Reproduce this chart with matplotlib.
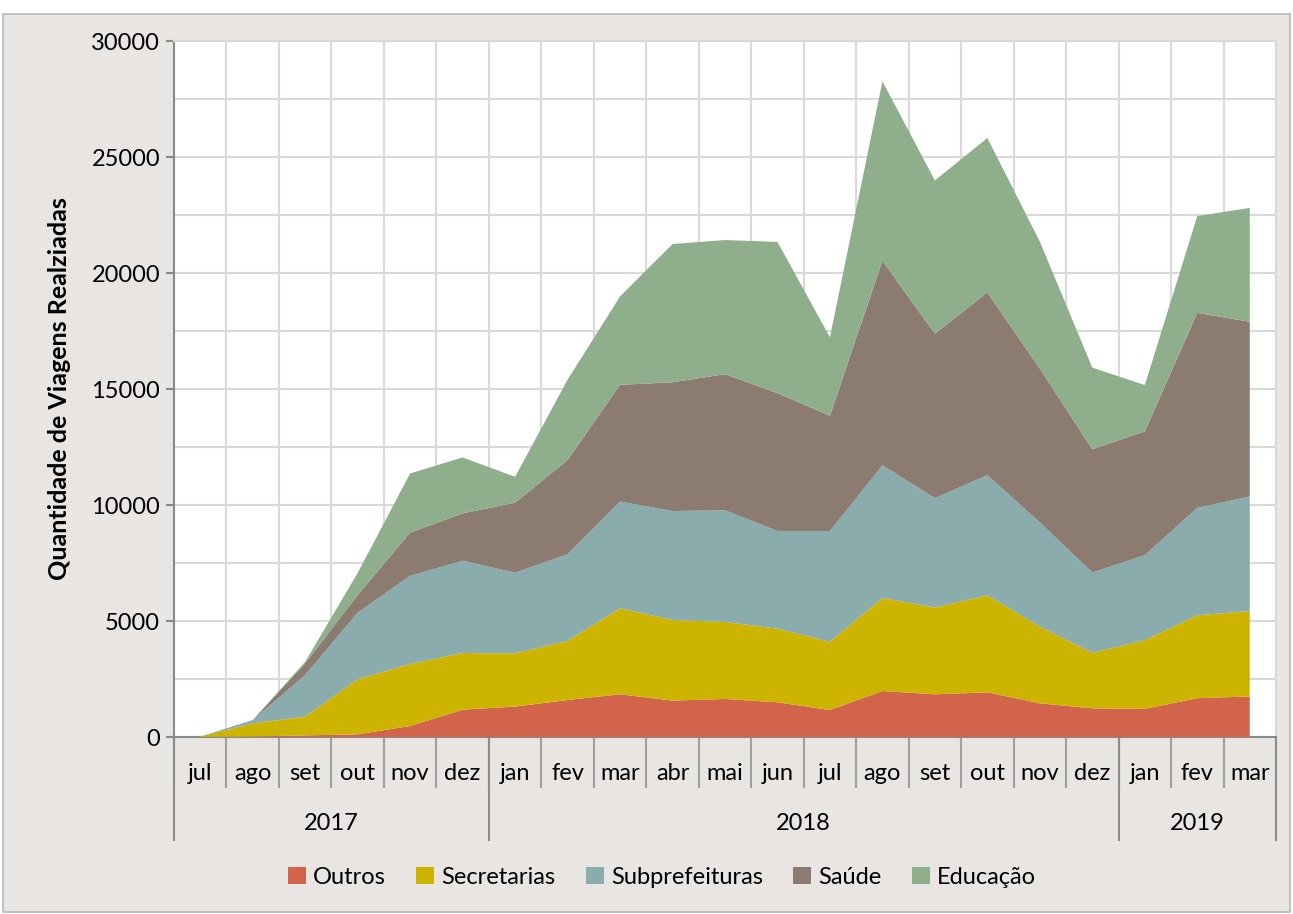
import matplotlib
matplotlib.use("Agg")
import matplotlib.pyplot as plt
import matplotlib.transforms as mtransforms
from matplotlib.patches import Rectangle
import numpy as np

plt.rcParams['font.family'] = ['Lato', 'DejaVu Sans']

months = ['jul', 'ago', 'set', 'out', 'nov', 'dez',
          'jan', 'fev', 'mar', 'abr', 'mai', 'jun', 'jul', 'ago', 'set', 'out', 'nov', 'dez',
          'jan', 'fev', 'mar']
years = ['2017', '2018', '2019']
year_counts = [6, 12, 3]

series_names = ['Outros', 'Secretarias', 'Subprefeituras', 'Saúde', 'Educação']
outros = [0, 20, 70, 115, 474, 1180, 1310, 1595, 1840, 1570, 1640, 1495, 1164, 1983, 1839, 1925, 1451, 1236, 1212, 1672, 1748]
secretarias = [20, 570, 805, 2370, 2673, 2440, 2296, 2545, 3710, 3473, 3320, 3175, 2936, 4007, 3741, 4185, 3309, 2389, 2960, 3573, 3681]
subprefeituras = [0, 140, 1795, 2875, 3798, 3980, 3477, 3740, 4600, 4697, 4815, 4210, 4780, 5720, 4720, 5175, 4490, 3465, 3665, 4632, 4939]
saude = [0, 0, 505, 760, 1865, 2040, 3017, 4060, 5030, 5550, 5865, 5940, 4970, 8820, 7080, 7875, 6630, 5310, 5338, 8405, 7531]
educacao = [0, 0, 70, 950, 2550, 2410, 1115, 3460, 3810, 5960, 5780, 6520, 3380, 7730, 6610, 6660, 5470, 3520, 1995, 4172, 4908]

colors = ['#D1644B', '#CCB400', '#8AACAD', '#8B7B70', '#8FAF8C']

W, H = 1293, 914
fig = plt.figure(figsize=(W / 100, H / 100), dpi=100)
fig.patch.set_facecolor('white')
fig.patches.append(Rectangle((3 / W, 2 / H), (1290 - 3) / W, (912 - 14) / H,
                             transform=fig.transFigure, facecolor='#E8E5E2',
                             edgecolor='#B8B8B8', linewidth=1.2, zorder=-10))

x0, x1 = 174, 1276
y0, y1 = 41, 737
ax = fig.add_axes([x0 / W, 1 - y1 / H, (x1 - x0) / W, (y1 - y0) / H])
ax.set_facecolor('white')

n = len(months)
xs = np.arange(n) + 0.5
ax.stackplot(xs, outros, secretarias, subprefeituras, saude, educacao,
             colors=colors, labels=series_names, linewidth=0, zorder=3)

ax.set_xlim(0, n)
ax.set_ylim(0, 30000)
ax.set_yticks(np.arange(0, 30001, 5000))
ax.set_yticks(np.arange(0, 30001, 2500), minor=True)
ax.yaxis.grid(True, which='both', color='#D9D9D9', linewidth=1.5, zorder=0)
for k in range(1, n):
    ax.axvline(k, color='#D9D9D9', linewidth=1.5, zorder=0)

for s in ['top', 'right']:
    ax.spines[s].set_color('#D9D9D9')
    ax.spines[s].set_linewidth(1.5)
for s in ['left', 'bottom']:
    ax.spines[s].set_color('#898989')
    ax.spines[s].set_linewidth(1.5)

ax.tick_params(axis='y', which='major', length=6, width=1.5, color='#898989',
               labelsize=17, pad=4, labelcolor='black')
ax.tick_params(axis='y', which='minor', length=0)

ax.set_xticks(np.arange(0, n + 1))
ax.set_xticklabels([])
ax.tick_params(axis='x', which='major', length=37, width=1.5, color='#A0A0A0', direction='out')

trans = mtransforms.blended_transform_factory(ax.transData, ax.transAxes)
ph = (y1 - y0)
for i, m in enumerate(months):
    ax.text(i + 0.5, -(773 - y1) / ph, m, transform=trans, ha='center', va='center',
            fontsize=17, color='black')

bounds = np.concatenate([[0], np.cumsum(year_counts)])
for b in bounds:
    ax.plot([b, b], [0, -(840 - y1) / ph], transform=trans, color='#8C8C8C',
            linewidth=1.5, clip_on=False)
for j, yname in enumerate(years):
    cx = (bounds[j] + bounds[j + 1]) / 2
    ax.text(cx, -(823 - y1) / ph, yname, transform=trans, ha='center', va='center',
            fontsize=17, color='black')

ax.set_ylabel('Quantidade de Viagens Realziadas', fontsize=18, fontweight='bold')
ax.yaxis.set_label_coords(-(174 - 60) / (x1 - x0), 0.5)
ax.yaxis.label.set_va('center')

handles, labels = ax.get_legend_handles_labels()
fig.legend(handles, labels, loc='center', bbox_to_anchor=(662 / W, 1 - 877 / H), ncol=5,
           frameon=False, fontsize=17, handlelength=0.75, handleheight=0.75,
           handletextpad=0.3, columnspacing=1.3)

fig.savefig('out.png', dpi=100, facecolor=fig.get_facecolor())
